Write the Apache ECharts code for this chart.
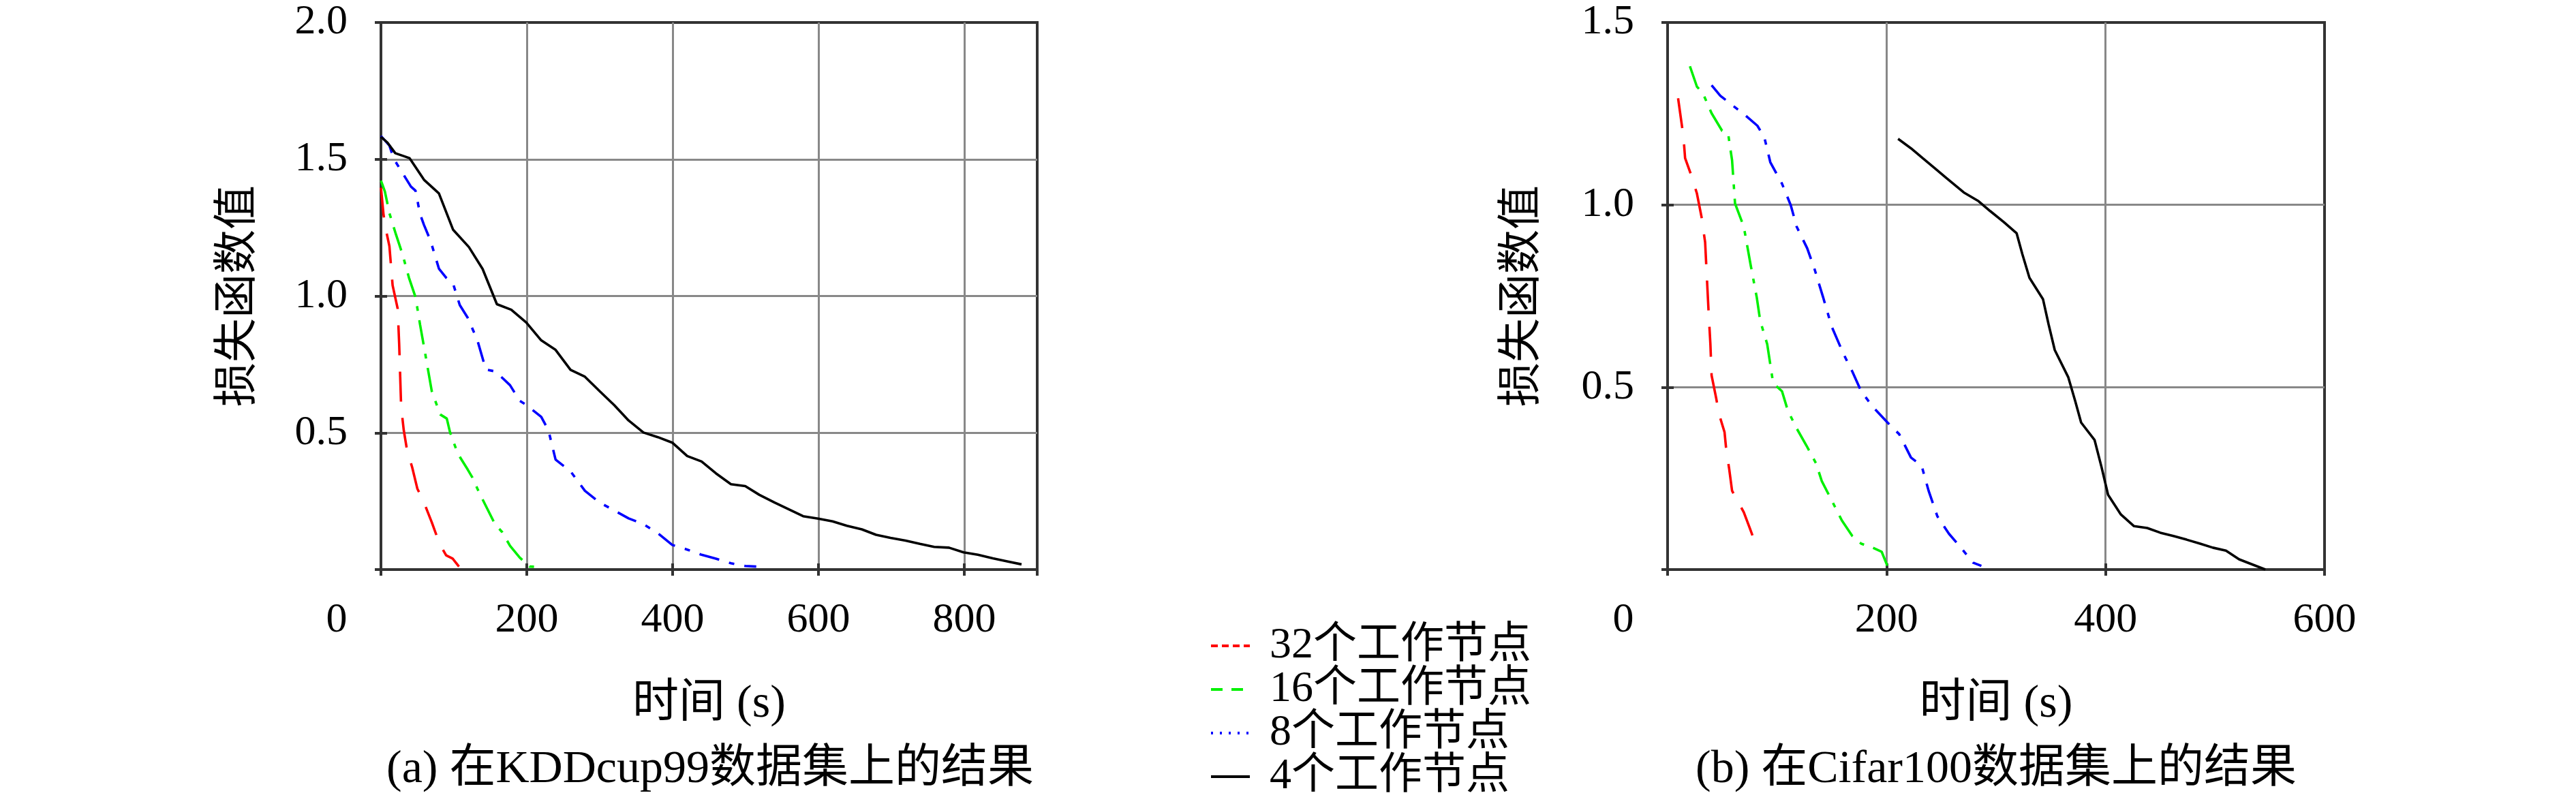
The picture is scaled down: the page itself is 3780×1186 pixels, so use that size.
<!DOCTYPE html>
<html><head><meta charset="utf-8">
<script src="https://cdn.jsdelivr.net/npm/echarts@6/dist/echarts.min.js"></script>
<style>html,body{margin:0;padding:0;background:#fff}#c{width:3780px;height:1186px}</style>
</head><body><div id="c"></div>
<script>
// ---- data ----
const seriesNames = ['32个工作节点', '16个工作节点', '8个工作节点', '4个工作节点'];
const captionA = '(a) 在KDDcup99数据集上的结果';
const captionB = '(b) 在Cifar100数据集上的结果';
const xTitle = '时间 (s)';
const yTitle = '损失函数值';
const xTicksA = [0, 200, 400, 600, 800];
const yTicksA = [0.5, 1.0, 1.5, 2.0];
const xTicksB = [0, 200, 400, 600];
const yTicksB = [0.5, 1.0, 1.5];

// KDDcup99
const kdd32 = [[0,1.396],[3.6,1.296],[7,1.24],[11.6,1.182],[16,1.039],[23,0.953],[25,0.824],[27.7,0.595],[31.3,0.509],[35.7,0.438],[42.9,0.373],[50,0.295],[58,0.252],[69.7,0.173],[80.4,0.094],[89.4,0.052],[98.3,0.040],[107,0.011]];
const kdd16 = [[0,1.422],[5.4,1.382],[11.6,1.303],[20.6,1.225],[29.5,1.153],[38.4,1.067],[47.4,0.996],[53.6,0.896],[60.8,0.788],[69.7,0.652],[81.3,0.567],[90.3,0.552],[94.7,0.502],[105.5,0.423],[118.9,0.366],[125.1,0.338],[134.9,0.280],[145.7,0.223],[156.4,0.166],[166.2,0.137],[177,0.087],[190.3,0.044],[203.8,0.011],[219,0.009]];
const kdd8 = [[0,1.585],[11.6,1.55],[17.9,1.50],[41.1,1.40],[47.4,1.385],[53.6,1.30],[59,1.26],[67.9,1.203],[79.5,1.10],[89.4,1.067],[99.2,1.043],[108.1,0.967],[118.9,0.921],[132.3,0.838],[143.9,0.731],[157.3,0.724],[177,0.674],[190.3,0.617],[199.3,0.602],[219.8,0.558],[229.7,0.509],[239.5,0.402],[260,0.359],[279.7,0.288],[300,0.245],[320,0.216],[339.6,0.187],[360,0.166],[379.8,0.133],[399.5,0.090],[420,0.073],[439.7,0.054],[459.3,0.040],[480,0.023],[499.6,0.013],[514.7,0.011]];
const kdd4 = [[0,1.582],[8.9,1.561],[19.7,1.522],[39.3,1.504],[59,1.425],[79.5,1.375],[99,1.242],[120.6,1.179],[139.4,1.099],[159,0.970],[178.7,0.950],[199.3,0.903],[219.8,0.838],[239.5,0.803],[260,0.730],[279.7,0.705],[300,0.652],[320,0.601],[339.6,0.545],[360,0.501],[379.8,0.484],[399.5,0.464],[420,0.415],[439.7,0.395],[459.3,0.352],[480,0.312],[499.6,0.305],[519,0.273],[539.8,0.245],[559.4,0.220],[579,0.195],[599.6,0.186],[619.3,0.176],[639,0.160],[659.5,0.147],[679,0.127],[698.8,0.116],[719.4,0.106],[739,0.094],[758.7,0.083],[779,0.080],[799,0.063],[818.6,0.054],[839,0.041],[858.8,0.030],[878.5,0.019]];

// Cifar100
const cif32 = [[9.6,1.292],[14.5,1.187],[16,1.128],[21.9,1.079],[26.8,1.031],[31,0.967],[34.3,0.897],[35.9,0.800],[37.5,0.704],[39.1,0.618],[40.2,0.532],[44.5,0.468],[47.1,0.425],[52,0.377],[53.6,0.328],[56.3,0.275],[58.9,0.216],[69.6,0.157],[75,0.114],[77.7,0.092],[81.4,0.055]];
const cif16 = [[20.4,1.380],[26.8,1.324],[32.1,1.307],[40.2,1.251],[49.8,1.203],[55.2,1.197],[58.9,1.122],[61.6,1.004],[69.6,0.940],[76,0.833],[81.4,0.747],[84.6,0.682],[91,0.618],[96.4,0.511],[104.5,0.489],[109.8,0.436],[117.9,0.387],[127,0.339],[135.6,0.291],[140.9,0.242],[150,0.189],[159.1,0.135],[168.7,0.092],[176.8,0.071],[187.5,0.060],[195.5,0.049],[199.8,0.017],[202,0.0]];
const cif8 = [[40.2,1.328],[48.2,1.299],[60.5,1.270],[69.6,1.249],[82,1.217],[88.4,1.185],[93.8,1.117],[104.5,1.058],[112.5,0.999],[117.9,0.940],[127.5,0.881],[133.9,0.827],[142,0.747],[149.9,0.666],[160.7,0.591],[168.7,0.543],[176.8,0.489],[187.5,0.446],[200.9,0.403],[211.6,0.371],[222.3,0.307],[232,0.285],[238.4,0.216],[246.4,0.146],[257,0.098],[267.9,0.060],[279,0.019],[286.6,0.010]];
const cif4 = [[210.5,1.181],[222.3,1.155],[233,1.128],[243.8,1.101],[254.5,1.074],[270.5,1.034],[284,1.010],[294.6,0.983],[307,0.953],[318.8,0.922],[324,0.865],[330.5,0.800],[342.9,0.741],[348,0.672],[353.6,0.602],[366,0.527],[372.3,0.462],[377.7,0.403],[390,0.355],[396.4,0.280],[402.3,0.205],[414,0.151],[426,0.119],[438,0.114],[450,0.101],[462,0.092],[474,0.082],[486.4,0.071],[498,0.060],[510,0.052],[522,0.028],[534,0.014],[546,0.0]];

// ---- styles ----
const serif = '"Liberation Serif", "Noto Sans CJK SC", serif';
const colors = ['#ff0000', '#00f000', '#0000ff', '#000000'];
const plotDash = [[44, 24], [36, 14, 7, 14], [30, 15, 8, 15], 'solid'];
const plotWidth = [3.6, 3.6, 3.6, 3.6];
const legendDash = [[10, 6], [17, 13], [3, 10], 'solid'];

function xAxisMain(grid, max, ticks, showMax) {
  return {
    gridIndex: grid, type: 'value', min: 0, max: max, interval: 200,
    axisLine: { show: false },
    axisTick: { show: true, inside: true, length: 9, lineStyle: { color: '#333', width: 4 } },
    axisLabel: {
      margin: 44, fontSize: 62, fontFamily: serif, color: '#000', showMaxLabel: showMax,
      formatter: v => (v === 0 ? '{z|0}' : (ticks.indexOf(v) >= 0 ? String(v) : '')),
      rich: { z: { padding: [0, 130, 0, 0], fontSize: 62, fontFamily: serif, color: '#000' } }
    },
    splitLine: { show: true, showMinLine: false, showMaxLine: false, lineStyle: { color: '#888', width: 3 } },
    name: xTitle, nameLocation: 'middle', nameGap: 164,
    nameTextStyle: { fontSize: 68, fontFamily: serif, color: '#000' }
  };
}
function yAxisMain(grid, max, ticks, gap) {
  return {
    gridIndex: grid, type: 'value', min: 0, max: max, interval: 0.5,
    axisLine: { show: false },
    axisTick: { show: true, inside: true, length: 9, lineStyle: { color: '#333', width: 4 } },
    axisLabel: {
      margin: 49, fontSize: 62, fontFamily: serif, color: '#000',
      formatter: v => (ticks.some(t => Math.abs(t - v) < 1e-9) ? v.toFixed(1) : '')
    },
    splitLine: { show: true, showMinLine: false, showMaxLine: false, lineStyle: { color: '#888', width: 3 } },
    name: yTitle, nameLocation: 'middle', nameGap: gap,
    nameTextStyle: { fontSize: 65, fontFamily: serif, color: '#000' }
  };
}
function tickOnly(grid, max, interval, pos) {
  return {
    gridIndex: grid, type: 'value', min: 0, max: max, interval: interval, position: pos,
    axisLine: { show: false }, axisLabel: { show: false }, splitLine: { show: false },
    axisTick: { show: true, inside: true, length: 9, lineStyle: { color: '#333', width: 4 } }
  };
}

const dataA = [kdd32, kdd16, kdd8, kdd4];
const dataB = [cif32, cif16, cif8, cif4];
const series = [];
[dataA, dataB].forEach((set, g) => {
  set.forEach((d, i) => {
    series.push({
      type: 'line', name: seriesNames[i], xAxisIndex: g, yAxisIndex: g, data: d,
      symbol: 'none', showSymbol: false, smooth: false, z: 3 + i,
      lineStyle: { color: colors[i], width: plotWidth[i], type: plotDash[i] },
      itemStyle: { color: colors[i] }
    });
  });
});

const hidden = { color: 'rgba(0,0,0,0)', borderColor: 'rgba(0,0,0,0)', borderWidth: 0, opacity: 0 };
const chart = echarts.init(document.getElementById('c'), null, { renderer: 'canvas' });
chart.setOption({
  animation: false,
  backgroundColor: '#ffffff',
  grid: [
    { left: 559, top: 33, width: 963, height: 803, show: true, borderColor: '#333', borderWidth: 4, backgroundColor: 'transparent' },
    { left: 2447, top: 33, width: 964, height: 803, show: true, borderColor: '#333', borderWidth: 4, backgroundColor: 'transparent' }
  ],
  xAxis: [xAxisMain(0, 900, xTicksA, false), xAxisMain(1, 600, xTicksB, true), tickOnly(0, 900, 200, 'top'), tickOnly(1, 600, 200, 'top')],
  yAxis: [yAxisMain(0, 2.0, yTicksA, 176), yAxisMain(1, 1.5, yTicksB, 180), tickOnly(0, 2.0, 0.5, 'right'), tickOnly(1, 1.5, 0.5, 'right')],
  legend: {
    orient: 'vertical', left: 1775, top: 916, padding: 0,
    itemWidth: 57, itemHeight: 14, itemGap: 0,
    itemStyle: hidden,
    textStyle: { fontSize: 64, fontFamily: serif, color: '#000', padding: [0, 0, 0, 24], lineHeight: 59 },
    data: seriesNames.map((n, i) => ({ name: n, itemStyle: hidden, lineStyle: { color: colors[i], width: 4, type: legendDash[i] } }))
  },
  graphic: [
    { type: 'text', x: 1042, y: 1130, style: { text: captionA, font: '68px ' + serif, fill: '#000', align: 'center', verticalAlign: 'middle', textAlign: 'center', textVerticalAlign: 'middle' } },
    { type: 'text', x: 2929, y: 1130, style: { text: captionB, font: '68px ' + serif, fill: '#000', align: 'center', verticalAlign: 'middle', textAlign: 'center', textVerticalAlign: 'middle' } }
  ],
  series: series
});
</script>
</body></html>
